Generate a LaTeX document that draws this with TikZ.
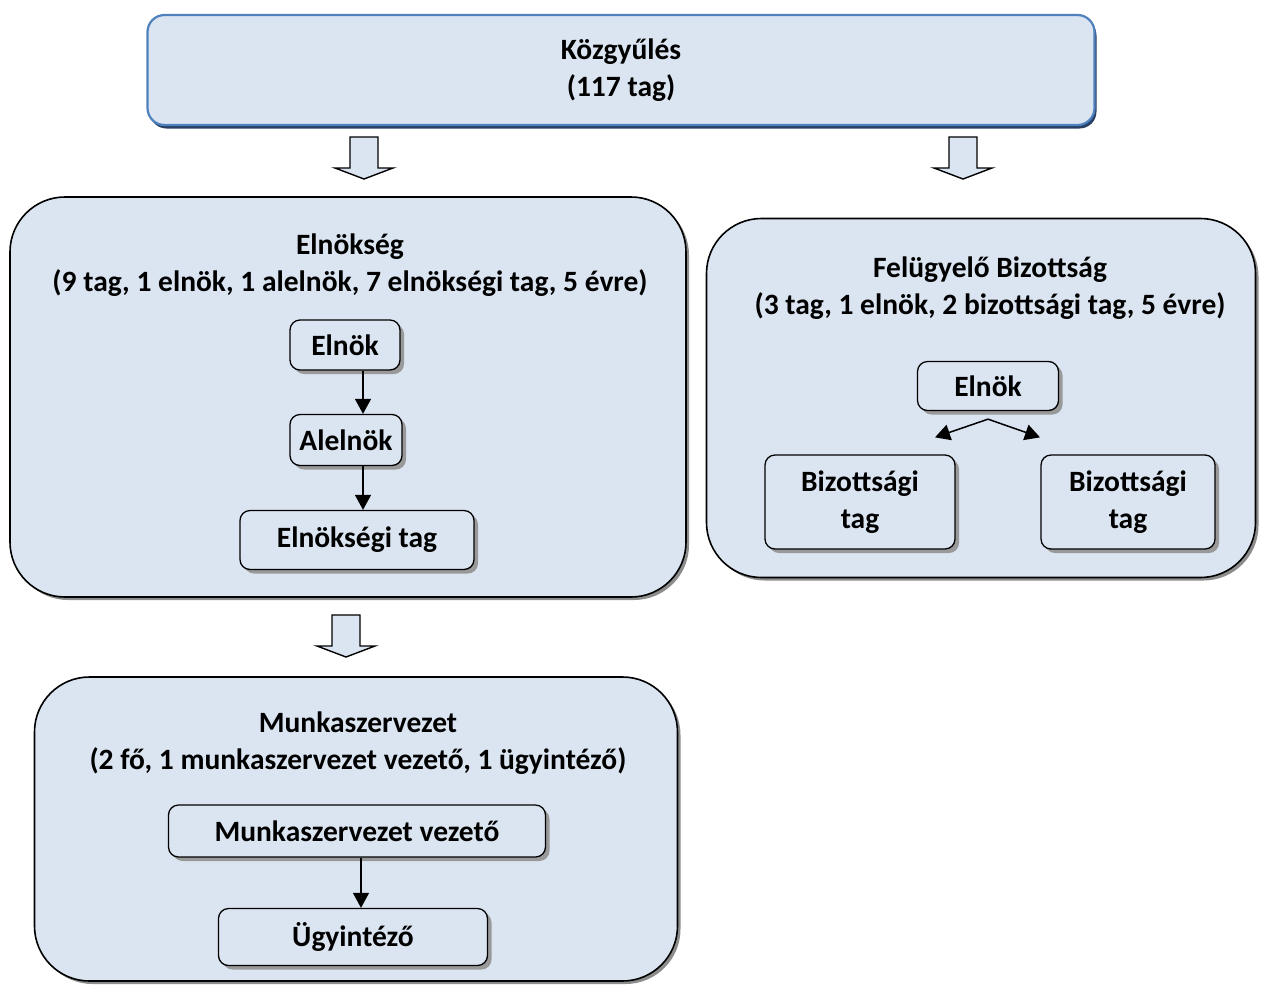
\documentclass[tikz,border=0pt]{standalone}
\usepackage{fontspec}
\setmainfont{Carlito}
\usepackage{tikz}
\usetikzlibrary{arrows.meta,shadows,positioning}

\definecolor{boxfill}{HTML}{DBE5F1}
\definecolor{topline}{HTML}{4F81BD}
\definecolor{topshade}{HTML}{263F63}

\tikzset{
  topbox/.style={draw=topline, line width=2.2pt, fill=boxfill, rounded corners=17pt,
    drop shadow={shadow xshift=2pt, shadow yshift=-3.5pt, fill=topshade, opacity=1}},
  groupbox/.style={draw, line width=1.6pt, fill=boxfill, rounded corners=55pt,
    drop shadow={shadow xshift=3pt, shadow yshift=-3pt, fill=black!45, opacity=1}},
  rolebox/.style={draw, line width=1.3pt, fill=boxfill, rounded corners=10pt, align=center,
    drop shadow={shadow xshift=4pt, shadow yshift=-4pt, fill=black!40, opacity=1}},
  title/.style={align=center, inner sep=0pt},
  blockarr/.style={draw, line width=1.4pt, fill=boxfill, line join=miter},
  link/.style={-{Triangle[length=15pt,width=16pt]}, line width=1.5pt}
}
\newcommand{\downblock}[2]{\draw[blockarr] (#1-14,#2) -- ++(28,0) -- ++(0,31) -- ++(15,0)
  -- (#1,#2+42) -- (#1-29,#2+31) -- ++(15,0) -- cycle;}

\begin{document}
\begin{tikzpicture}[x=1pt, y=-1pt, font=\fontsize{29.5}{37}\selectfont\bfseries]
\useasboundingbox (0,0) rectangle (1263,994);

% top
\node[topbox, minimum width=947pt, minimum height=110pt, align=center] (kgy) at (621,70)
  {Közgyűlés\\(117 tag)};
\downblock{364}{137}
\downblock{963}{137}

% Elnokseg
\node[groupbox, minimum width=676pt, minimum height=400pt] (elnokseg) at (348,397) {};
\node[title] (elnoksegt) at (350,265) {Elnökség\\(9 tag, 1 elnök, 1 alelnök, 7 elnökségi tag, 5 évre)};
\node[rolebox, minimum width=110pt, minimum height=50pt] (elnok) at (345,345) {Elnök};
\node[rolebox, minimum width=112pt, minimum height=51pt] (alelnok) at (346,440) {Alelnök};
\node[rolebox, minimum width=234pt, minimum height=59pt] (etag) at (357,540) {Elnökségi tag};
\draw[link] ([xshift=18pt]elnok.south) -- ([xshift=17pt]alelnok.north);
\draw[link] ([xshift=17pt]alelnok.south) -- ([xshift=6pt]etag.north);

% Felugyelo Bizottsag
\node[groupbox, minimum width=549pt, minimum height=359pt] (fb) at (981,398) {};
\node[title] (fbt) at (990,288) {Felügyelő Bizottság\\(3 tag, 1 elnök, 2 bizottsági tag, 5 évre)};
\node[rolebox, minimum width=141pt, minimum height=49pt] (fbelnok) at (988,386) {Elnök};
\node[rolebox, minimum width=190pt, minimum height=94pt] (btag1) at (860,502) {Bizottsági\\tag};
\node[rolebox, minimum width=174pt, minimum height=94pt] (btag2) at (1128,502) {Bizottsági\\tag};
\draw[link] ([yshift=-8pt]fbelnok.south) -- ([xshift=75pt,yshift=17pt]btag1.north);
\draw[link] ([yshift=-8pt]fbelnok.south) -- ([xshift=-88pt,yshift=17pt]btag2.north);

\downblock{346}{615}

% Munkaszervezet
\node[groupbox, minimum width=643pt, minimum height=304pt] (munka) at (356,829) {};
\node[title] (munkat) at (358,743) {Munkaszervezet\\(2 fő, 1 munkaszervezet vezető, 1 ügyintéző)};
\node[rolebox, minimum width=377pt, minimum height=52pt] (mvez) at (357,831) {Munkaszervezet vezető};
\node[rolebox, minimum width=269pt, minimum height=57pt] (ugyint) at (353,937) {Ügyintéző};
\draw[link] ([xshift=4pt]mvez.south) -- ([xshift=8pt]ugyint.north);

\end{tikzpicture}
\end{document}
